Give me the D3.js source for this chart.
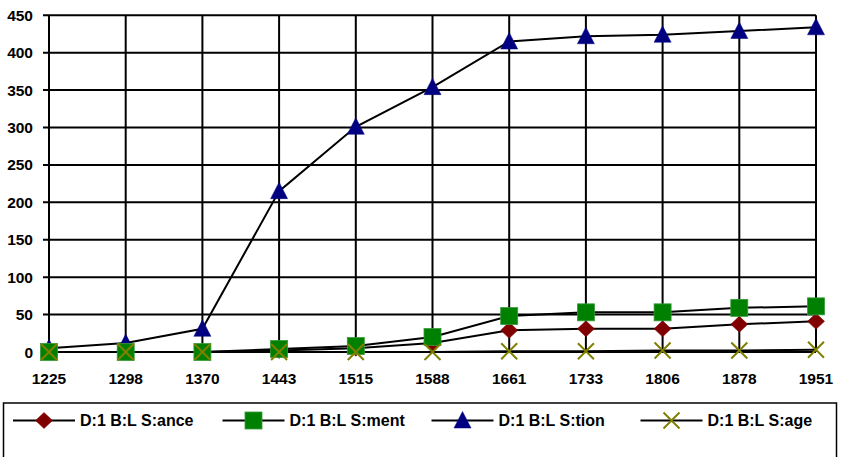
<!DOCTYPE html>
<html>
<head>
<meta charset="utf-8">
<script src="https://cdn.jsdelivr.net/npm/d3@7"></script>
<style>
  html, body { margin: 0; padding: 0; background: #ffffff; }
  svg { display: block; }
  text { font-family: "Liberation Sans", Arial, sans-serif; font-weight: bold; fill: #000; }
</style>
</head>
<body>
<svg id="chart" width="841" height="457"></svg>
<script>
// Categories along the x axis
const years = ["1225", "1298", "1370", "1443", "1515", "1588", "1661", "1733", "1806", "1878", "1951"];

// Series values
const ance = [0, 0, 0, 2, 5, 12, 29, 31, 31, 37, 41];
const ment = [0, 0, 0, 4, 8, 20, 48, 53, 53, 59, 61];
const tion = [5, 12, 31, 215, 301, 354, 415, 422, 424, 429, 434];
const age  = [0, 0, 0, 0, 0, 0, 1, 1, 2, 2, 3];

// Series names and y tick values
const seriesNames = ["D:1 B:L S:ance", "D:1 B:L S:ment", "D:1 B:L S:tion", "D:1 B:L S:age"];
const yTicks = [0, 50, 100, 150, 200, 250, 300, 350, 400, 450];

const svg = d3.select("#chart");

const plot = { left: 49, right: 816, top: 15.3, bottom: 352 };

const x = d3.scalePoint().domain(years).range([plot.left, plot.right]);
const y = d3.scaleLinear().domain([0, 450]).range([plot.bottom, plot.top]);

// Grid: horizontal lines (with tick stubs on the left) and vertical category lines
const grid = svg.append("g").attr("stroke", "#000").attr("stroke-width", 2);
grid.selectAll("line.h").data(yTicks).join("line")
  .attr("class", "h")
  .attr("x1", plot.left - 6).attr("x2", plot.right)
  .attr("y1", d => y(d)).attr("y2", d => y(d));
grid.selectAll("line.v").data(years).join("line")
  .attr("class", "v")
  .attr("x1", d => x(d)).attr("x2", d => x(d))
  .attr("y1", plot.top).attr("y2", plot.bottom);

// Axis labels
svg.append("g").selectAll("text").data(yTicks).join("text")
  .attr("x", 33).attr("y", d => y(d) + 5.5)
  .attr("text-anchor", "end").attr("font-size", 15.5)
  .text(d => d);
svg.append("g").selectAll("text").data(years).join("text")
  .attr("x", d => x(d)).attr("y", 383.5)
  .attr("text-anchor", "middle").attr("font-size", 15.5)
  .text(d => d);

// Marker shapes
const markers = {
  diamond: g => g.append("path").attr("d", "M0,-8L8.5,0L0,8L-8.5,0Z")
    .attr("fill", "#800000").attr("stroke", "#800000").attr("stroke-width", 0.5),
  square: g => g.append("rect").attr("x", -8.5).attr("y", -8.5).attr("width", 17).attr("height", 17)
    .attr("fill", "#008000").attr("stroke", "#3a9a3a").attr("stroke-width", 0.8),
  triangle: g => g.append("path").attr("d", "M0,-9L8.5,7.5L-8.5,7.5Z")
    .attr("fill", "#000080").attr("stroke", "#000080").attr("stroke-width", 0.5),
  cross: g => g.append("path").attr("d", "M-8,-8L8,8M8,-8L-8,8")
    .attr("fill", "none").attr("stroke", "#808000").attr("stroke-width", 2)
};

const series = [
  { name: seriesNames[0], values: ance, marker: "diamond" },
  { name: seriesNames[1], values: ment, marker: "square" },
  { name: seriesNames[2], values: tion, marker: "triangle" },
  { name: seriesNames[3], values: age, marker: "cross" }
];

const line = d3.line().x((d, i) => x(years[i])).y(d => y(d));

// Lines first, then markers (tion underneath, age on top)
const drawOrder = [2, 0, 1, 3];
const lines = svg.append("g");
drawOrder.forEach(k => {
  lines.append("path").datum(series[k].values)
    .attr("d", line).attr("fill", "none")
    .attr("stroke", "#000").attr("stroke-width", 2);
});
const pts = svg.append("g");
drawOrder.forEach(k => {
  const s = series[k];
  s.values.forEach((v, i) => {
    const g = pts.append("g").attr("transform", `translate(${x(years[i])},${y(v)})`);
    markers[s.marker](g);
  });
});

// Legend box
const legend = svg.append("g");
legend.append("rect")
  .attr("x", 3.5).attr("y", 403).attr("width", 833).attr("height", 60)
  .attr("fill", "#fff").attr("stroke", "#000").attr("stroke-width", 1.5);

const legendX = [13, 222.5, 431.5, 640.5];
series.forEach((s, k) => {
  const g = legend.append("g").attr("transform", `translate(${legendX[k]},420.5)`);
  g.append("line").attr("x1", 0).attr("x2", 62).attr("y1", 0).attr("y2", 0)
    .attr("stroke", "#000").attr("stroke-width", 2);
  const m = g.append("g").attr("transform", "translate(31,0)");
  markers[s.marker](m);
  g.append("text").attr("x", 67).attr("y", 5.7).attr("font-size", 16).text(s.name);
});
</script>
</body>
</html>
